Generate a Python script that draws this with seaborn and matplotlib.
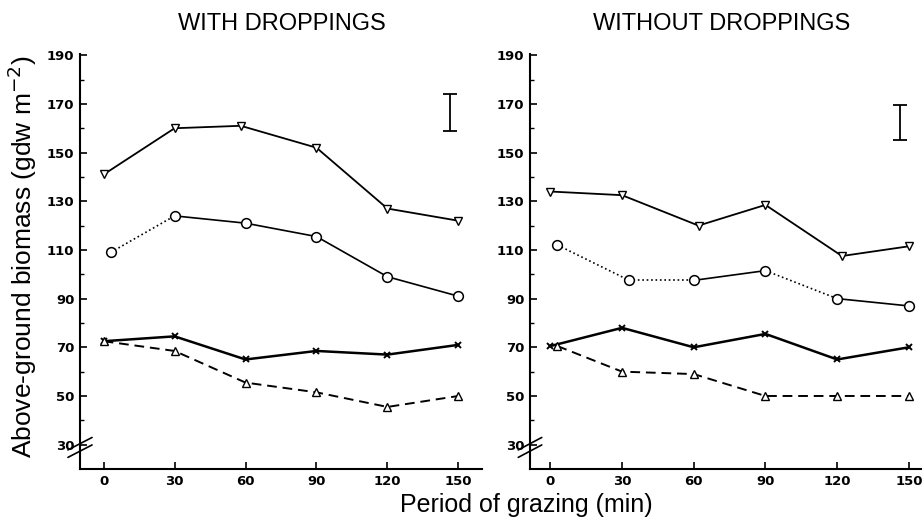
import numpy as np
import pandas as pd
import seaborn as sns
import matplotlib.pyplot as plt

# (x = minutes of grazing, y = gdw m-2)
minutes = [0, 30, 60, 90, 120, 150]

with_tri_down_x = [0, 30, 58, 90, 120, 150]
with_tri_down = [141, 160, 161, 152, 127, 122]
with_circle_x = [3, 30, 60, 90, 120, 150]
with_circle = [109, 124, 121, 115.5, 99, 91]
with_cross = [72.5, 74.5, 65, 68.5, 67, 71]
with_tri_up = [72.5, 68.5, 55.5, 51.5, 45.5, 50]

without_tri_down_x = [0, 30, 62, 90, 122, 150]
without_tri_down = [134, 132.5, 120, 128.5, 107.5, 111.5]
without_circle_x = [3, 33, 60, 90, 120, 150]
without_circle = [112, 97.5, 97.5, 101.5, 90, 87]
without_cross = [70.5, 78, 70, 75.5, 65, 70]
without_tri_up_x = [3, 30, 60, 90, 120, 150]
without_tri_up = [70.5, 60, 59, 50, 50, 50]

# LSD bars (x, low, high)
with_bar = (146.5, 159, 174)
without_bar = (146.5, 155, 169.5)

titles = ["WITH DROPPINGS", "WITHOUT DROPPINGS"]

# linestyle of each circle segment (the original is partly dotted)
circle_seg_styles = [
    [":", "-", "-", "-", "-"],
    [":", ":", "-", ":", "-"],
]

sns.set_style("ticks")
plt.rcParams["font.family"] = ["Liberation Sans", "DejaVu Sans"]
plt.rcParams.update({"text.color": "black", "axes.labelcolor": "black",
                     "xtick.color": "black", "ytick.color": "black",
                     "axes.edgecolor": "black"})

fig = plt.figure(figsize=(9.22, 5.24), dpi=100)
ax1 = fig.add_axes([80 / 922, 1 - 469 / 524, 402 / 922, 415 / 524])
ax2 = fig.add_axes([530 / 922, 1 - 469 / 524, 392 / 922, 415 / 524])

panels = [
    (ax1, with_tri_down_x, with_tri_down, with_circle_x, with_circle,
     minutes, with_cross, minutes, with_tri_up, with_bar, (-10, 160)),
    (ax2, without_tri_down_x, without_tri_down, without_circle_x, without_circle,
     minutes, without_cross, without_tri_up_x, without_tri_up, without_bar, (-8.5, 155.5)),
]

for i, (ax, tdx, td, cx, cy, xx, xy, tux, tu, bar, xlim) in enumerate(panels):
    k = "k"
    sns.lineplot(x=tdx, y=td, ax=ax, color=k, lw=1.3, marker="v", ms=5.5,
                 mfc="white", mec=k, mew=1.0)
    # circle series, segment by segment
    for j in range(len(cx) - 1):
        ax.plot(cx[j:j + 2], cy[j:j + 2], color=k, lw=1.2,
                linestyle=circle_seg_styles[i][j])
    sns.lineplot(x=cx, y=cy, ax=ax, color=k, lw=0, marker="o", ms=7,
                 mfc="white", mec=k, mew=1.1)
    sns.lineplot(x=xx, y=xy, ax=ax, color=k, lw=1.8, marker="x", ms=5,
                 mec=k, mew=1.4)
    sns.lineplot(x=tux, y=tu, ax=ax, color=k, lw=1.4, ls=(0, (5, 3)),
                 marker="^", ms=5.5, mfc="white", mec=k, mew=1.0)

    bx, blo, bhi = bar
    ax.errorbar([bx], [(blo + bhi) / 2], yerr=[(bhi - blo) / 2], color=k,
                lw=1.3, capsize=5, capthick=1.3, fmt="none")

    ax.set_xlim(*xlim)
    ax.set_ylim(20, 190.5)
    ax.set_xticks(minutes)
    ax.set_yticks(np.arange(30, 191, 20))
    ax.set_yticks(np.arange(40, 191, 20), minor=True)
    ax.tick_params(axis="both", which="major", direction="in", length=5,
                   width=1.2, labelsize=9.5, pad=4)
    ax.tick_params(axis="y", which="minor", direction="in", length=3, width=1.0)
    for lab in ax.get_xticklabels() + ax.get_yticklabels():
        lab.set_fontweight("bold")
        lab.set_family("DejaVu Sans")
    for s in ["left", "bottom"]:
        ax.spines[s].set_linewidth(1.5)
    sns.despine(ax=ax)

    # axis break marks
    for dy in (0.0, 0.018):
        ax.plot([-0.03, 0.03], [0.028 + dy, 0.058 + dy], transform=ax.transAxes,
                color=k, lw=1.2, clip_on=False)

fig.text(282 / 922, 1 - 24 / 524, titles[0], ha="center", va="center", fontsize=17)
fig.text(722 / 922, 1 - 24 / 524, titles[1], ha="center", va="center", fontsize=17)
fig.text(526 / 922, 1 - 505 / 524, "Period of grazing (min)", ha="center",
         va="center", fontsize=18)
fig.text(22 / 922, 1 - 257 / 524, "Above-ground biomass (gdw m$^{-2}$)",
         ha="center", va="center", rotation=90, fontsize=19)

fig.savefig("out.png", dpi=100)
